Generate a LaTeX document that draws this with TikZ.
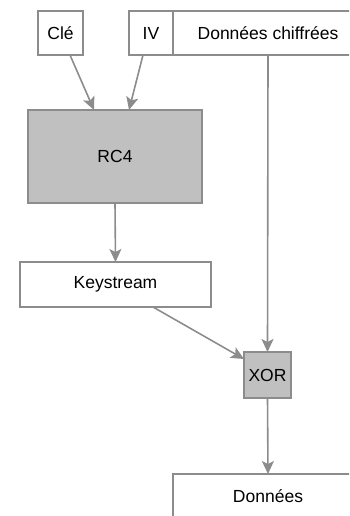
\documentclass[tikz,border=0pt]{standalone}
\usepackage{fontspec}
\setmainfont{Liberation Sans}
\usetikzlibrary{arrows.meta,positioning}
\definecolor{edge}{HTML}{8C8C8C}
\definecolor{block}{HTML}{C0C0C0}

\begin{document}
\begin{tikzpicture}[x=1pt,y=-1pt,>={Stealth[length=13pt,width=12pt,inset=3pt]},
  every node/.style={font=\fontsize{17.5}{20}\selectfont},
  box/.style={draw=edge,line width=1.3pt,fill=white,inner sep=0pt,outer sep=0pt,minimum height=44pt},
  grey/.style={box,fill=block},
  flow/.style={->,line width=1.6pt,draw=edge}]
\useasboundingbox (0,0) rectangle (349,516);
\clip (0,0) rectangle (349,516);
\node[box,minimum width=45pt] (cle) at (60.5,33) {Clé};
\node[box,minimum width=44pt] (iv) at (151,33) {IV};
\node[box,minimum width=190pt,right=0pt of iv] (chiffre) {Données chiffrées};
\node[grey,minimum width=174pt,minimum height=93pt] (rc4) at (115,156.5) {RC4};
\node[box,minimum width=191pt,minimum height=45pt] (key) at (115.5,284.5) {Keystream};
\node[grey,minimum width=47pt,minimum height=46pt] (xor) at (267.5,375) {XOR};
\node[box,minimum width=190pt] (out) at (268,496) {Données};
\draw[flow] ([xshift=9.5pt]cle.south) -- ([xshift=-21pt]rc4.north);
\draw[flow] ([xshift=-8pt]iv.south) -- ([xshift=14pt]rc4.north);
\draw[flow] (rc4.south) -- (key.north);
\draw[flow] (chiffre.south) -- (xor.north);
\draw[flow] ([xshift=37.5pt]key.south) -- ([yshift=-7pt]xor.north west);
\draw[flow] (xor.south) -- (out.north);
\end{tikzpicture}
\end{document}
